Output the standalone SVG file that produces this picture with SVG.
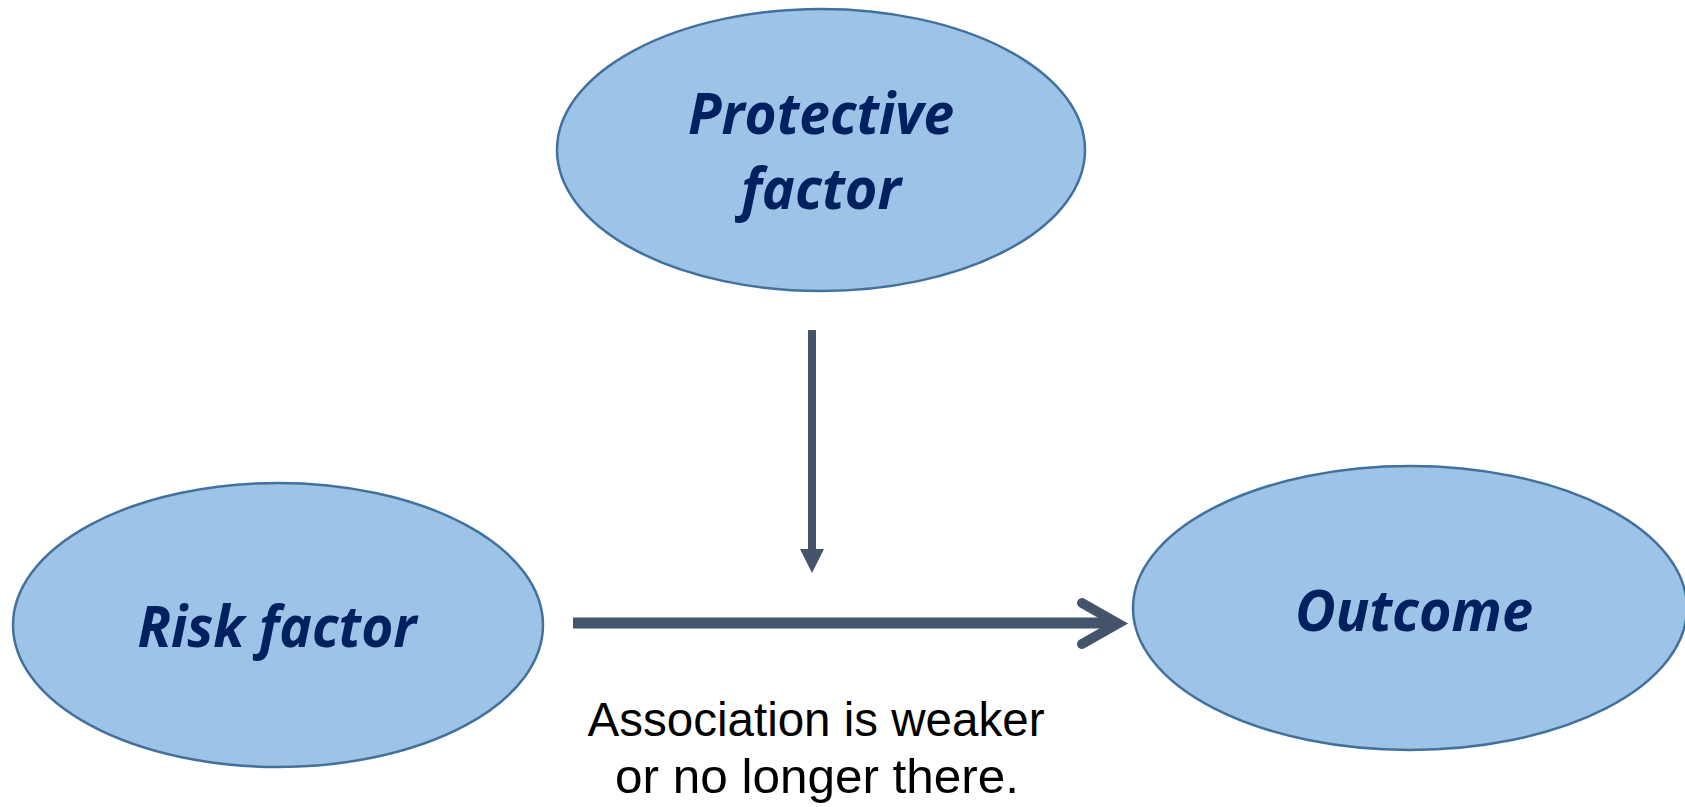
<svg xmlns="http://www.w3.org/2000/svg" width="1685" height="807" viewBox="0 0 1685 807">
<style>
.node{fill:#9DC3E6;stroke:#41719C;stroke-width:2.5}
.nt{font-family:"Open Sans","Noto Sans",sans-serif;font-weight:bold;font-style:italic;fill:#002060;font-size:57px;text-anchor:middle}
.lbl{font-family:"Liberation Sans",Arial,sans-serif;fill:#000;font-size:48px;text-anchor:middle}
.conn{stroke:#44546A;fill:none}
</style>
<defs>
<marker id="tri" markerUnits="userSpaceOnUse" markerWidth="24" markerHeight="26" refX="0" refY="12" orient="auto" viewBox="0 0 24 24">
<path d="M0,0 L24,12 L0,24 Z" fill="#44546A"/>
</marker>
</defs>
<rect width="1685" height="807" fill="#fff"/>
<g id="protective">
<ellipse class="node" cx="821" cy="150" rx="264" ry="141"/>
<text class="nt" x="821" y="134" textLength="266" lengthAdjust="spacingAndGlyphs">Protective</text>
<text class="nt" x="821" y="209" textLength="160" lengthAdjust="spacingAndGlyphs">factor</text>
</g>
<g id="risk">
<ellipse class="node" cx="278" cy="625" rx="265" ry="142"/>
<text class="nt" x="277" y="647" textLength="279" lengthAdjust="spacingAndGlyphs">Risk factor</text>
</g>
<g id="outcome">
<ellipse class="node" cx="1410" cy="608" rx="277" ry="142"/>
<text class="nt" x="1414" y="631" textLength="238" lengthAdjust="spacingAndGlyphs">Outcome</text>
</g>
<g id="connectors">
<line class="conn" x1="812" y1="330" x2="812" y2="549" stroke-width="8" marker-end="url(#tri)"/>
<line class="conn" x1="573" y1="623" x2="1116" y2="623" stroke-width="11"/>
<polyline class="conn" points="1082,603 1118,623.5 1082,644" stroke-width="10" stroke-linecap="round" stroke-linejoin="miter"/>
</g>
<g id="label">
<text class="lbl" x="816" y="736" textLength="457" lengthAdjust="spacingAndGlyphs">Association is weaker</text>
<text class="lbl" x="817" y="793" textLength="404" lengthAdjust="spacingAndGlyphs">or no longer there.</text>
</g>
</svg>
